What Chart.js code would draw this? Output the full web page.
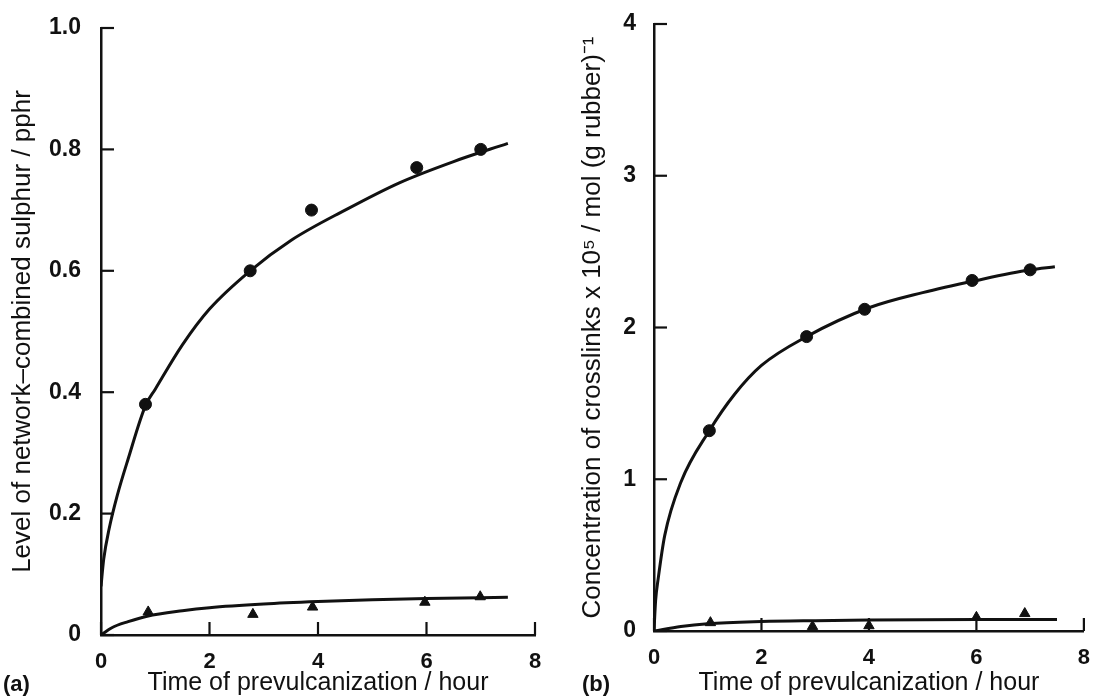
<!DOCTYPE html>
<html>
<head>
<meta charset="utf-8">
<script src="https://cdn.jsdelivr.net/npm/chart.js@4.4.1/dist/chart.umd.min.js"></script>
<style>
  body { margin: 0; background: #fff; }
  .wrap { position: relative; width: 1096px; height: 698px; overflow: hidden; }
  .panel { position: absolute; top: 0; width: 548px; height: 698px; }
  .tag { position: absolute; font: bold 22px "Liberation Sans", Arial, sans-serif; color: #111; }
</style>
</head>
<body>
<div class="wrap">
  <div class="panel" style="left:0"><canvas id="chartA"></canvas></div>
  <div class="panel" style="left:548px"><canvas id="chartB"></canvas></div>
  <div class="tag" style="left:3px; top:671px">(a)</div>
  <div class="tag" style="left:582px; top:671px">(b)</div>
</div>
<script>
// panel (a): network-combined sulphur
const hoursA = [0.82, 2.75, 3.88, 5.82, 7.0]
const sulphurCircles = [0.38, 0.60, 0.70, 0.77, 0.80]
const hoursATri = [0.87, 2.8, 3.9, 5.97, 6.99]
const sulphurTriangles = [0.038, 0.034, 0.046, 0.054, 0.063]
// fitted curves
const curveA1x = [0, 0.05, 0.15, 0.3, 0.5, 0.82, 1.0, 1.5, 2.0, 2.75, 3.5, 4.5, 5.5, 6.5, 7.5]
const curveA1y = [0.08, 0.125, 0.175, 0.23, 0.29, 0.378, 0.405, 0.478, 0.537, 0.60, 0.65, 0.70, 0.745, 0.78, 0.81]
const curveA2x = [0, 0.2, 0.5, 0.85, 1.5, 2, 3, 4, 5, 6, 7.5]
const curveA2y = [0, 0.012, 0.022, 0.031, 0.040, 0.045, 0.051, 0.055, 0.058, 0.06, 0.062]

// panel (b): crosslink concentration
const hoursB = [1.03, 2.84, 3.92, 5.92, 7.0]
const crosslinkCircles = [1.32, 1.94, 2.12, 2.31, 2.38]
const hoursBTri = [1.05, 2.95, 4.0, 6.0, 6.9]
const crosslinkTriangles = [0.055, 0.03, 0.035, 0.09, 0.115]
const curveB1x = [0, 0.03, 0.08, 0.2, 0.5, 1.03, 1.5, 2, 2.84, 4, 5, 6, 7, 7.46]
const curveB1y = [0, 0.2, 0.35, 0.63, 0.98, 1.32, 1.56, 1.75, 1.94, 2.13, 2.23, 2.31, 2.38, 2.40]
const curveB2x = [0, 0.5, 1, 2, 3, 4, 6, 7.5]
const curveB2y = [0, 0.03, 0.048, 0.062, 0.068, 0.072, 0.075, 0.075]

const xTicks = [0, 2, 4, 6, 8]
const yTicksA = [0, 0.2, 0.4, 0.6, 0.8, 1.0]
const yTicksB = [0, 1, 2, 3, 4]

const ink = '#111'
const font = '"Liberation Sans", Arial, sans-serif'

const pts = (xs, ys) => xs.map((x, i) => ({ x: x, y: ys[i] }))

// tick marks pointing into the plot
const inwardTicks = {
  id: 'inwardTicks',
  afterDraw(chart) {
    const ctx = chart.ctx
    const area = chart.chartArea
    const len = 13
    ctx.save()
    ctx.strokeStyle = ink
    ctx.lineWidth = 2.2
    chart.scales.x.ticks.forEach(t => {
      const px = chart.scales.x.getPixelForValue(t.value)
      ctx.beginPath()
      ctx.moveTo(px, area.bottom)
      ctx.lineTo(px, area.bottom - len)
      ctx.stroke()
    })
    chart.scales.y.ticks.forEach(t => {
      const py = chart.scales.y.getPixelForValue(t.value)
      ctx.beginPath()
      ctx.moveTo(area.left, py)
      ctx.lineTo(area.left + len, py)
      ctx.stroke()
    })
    ctx.restore()
  }
}

const makePanel = (id, cfg) => {
  const ctx = document.getElementById(id).getContext('2d')
  return new Chart(ctx, {
    type: 'scatter',
    data: {
      datasets: [
        { type: 'line', data: pts(cfg.c1x, cfg.c1y), borderColor: ink, borderWidth: 3,
          pointRadius: 0, cubicInterpolationMode: 'monotone', fill: false },
        { type: 'line', data: pts(cfg.c2x, cfg.c2y), borderColor: ink, borderWidth: 3,
          pointRadius: 0, cubicInterpolationMode: 'monotone', fill: false },
        { data: pts(cfg.px, cfg.py), pointStyle: 'circle', pointRadius: 6,
          backgroundColor: ink, borderColor: ink },
        { data: pts(cfg.tx, cfg.ty), pointStyle: 'triangle', pointRadius: 6,
          backgroundColor: ink, borderColor: ink }
      ]
    },
    options: {
      responsive: false,
      animation: false,
      layout: { padding: cfg.padding },
      plugins: { legend: { display: false }, tooltip: { enabled: false } },
      scales: {
        x: {
          type: 'linear', min: 0, max: 8,
          afterBuildTicks: s => { s.ticks = xTicks.map(v => ({ value: v })) },
          afterFit: s => { s.height = cfg.xHeight },
          grid: { display: false },
          border: { display: true, color: ink, width: 2.5 },
          ticks: { color: ink, padding: 6, font: { family: font, size: 22, weight: 'bold' } },
          title: { display: true, text: 'Time of prevulcanization / hour', color: ink,
            padding: { top: 0, bottom: 0 }, font: { family: font, size: 25 } }
        },
        y: {
          type: 'linear', min: 0, max: cfg.yMax,
          afterBuildTicks: s => { s.ticks = cfg.yTicks.map(v => ({ value: v })) },
          afterFit: s => { s.width = cfg.yWidth },
          grid: { display: false },
          border: { display: true, color: ink, width: 2.5 },
          ticks: { color: ink, padding: cfg.yPad, font: { family: font, size: 23, weight: 'bold' },
            callback: cfg.fmt },
          title: { display: true, text: cfg.yTitle, color: ink,
            padding: { top: cfg.titleTop, bottom: 0 }, font: { family: font, size: 26 } }
        }
      }
    },
    plugins: [inwardTicks]
  })
}

document.getElementById('chartA').width = 548
document.getElementById('chartA').height = 698
document.getElementById('chartB').width = 548
document.getElementById('chartB').height = 698

makePanel('chartA', {
  c1x: curveA1x, c1y: curveA1y, c2x: curveA2x, c2y: curveA2y,
  px: hoursA, py: sulphurCircles, tx: hoursATri, ty: sulphurTriangles,
  yMax: 1.0, yTicks: yTicksA,
  fmt: v => (v === 0 ? '0' : v.toFixed(1)),
  yTitle: 'Level of network\u2013combined sulphur / pphr',
  padding: { top: 28, right: 13, bottom: 0, left: 0 },
  yWidth: 101, xHeight: 63, yPad: 12, titleTop: 7
})

makePanel('chartB', {
  c1x: curveB1x, c1y: curveB1y, c2x: curveB2x, c2y: curveB2y,
  px: hoursB, py: crosslinkCircles, tx: hoursBTri, ty: crosslinkTriangles,
  yMax: 4, yTicks: yTicksB,
  fmt: v => String(v),
  yTitle: 'Concentration of crosslinks x 10\u2075 / mol (g rubber)\u207B\u00B9',
  padding: { top: 24, right: 9, bottom: 0, left: 0 },
  yWidth: 106, xHeight: 67, yPad: 10, titleTop: 29
})
</script>
</body>
</html>
